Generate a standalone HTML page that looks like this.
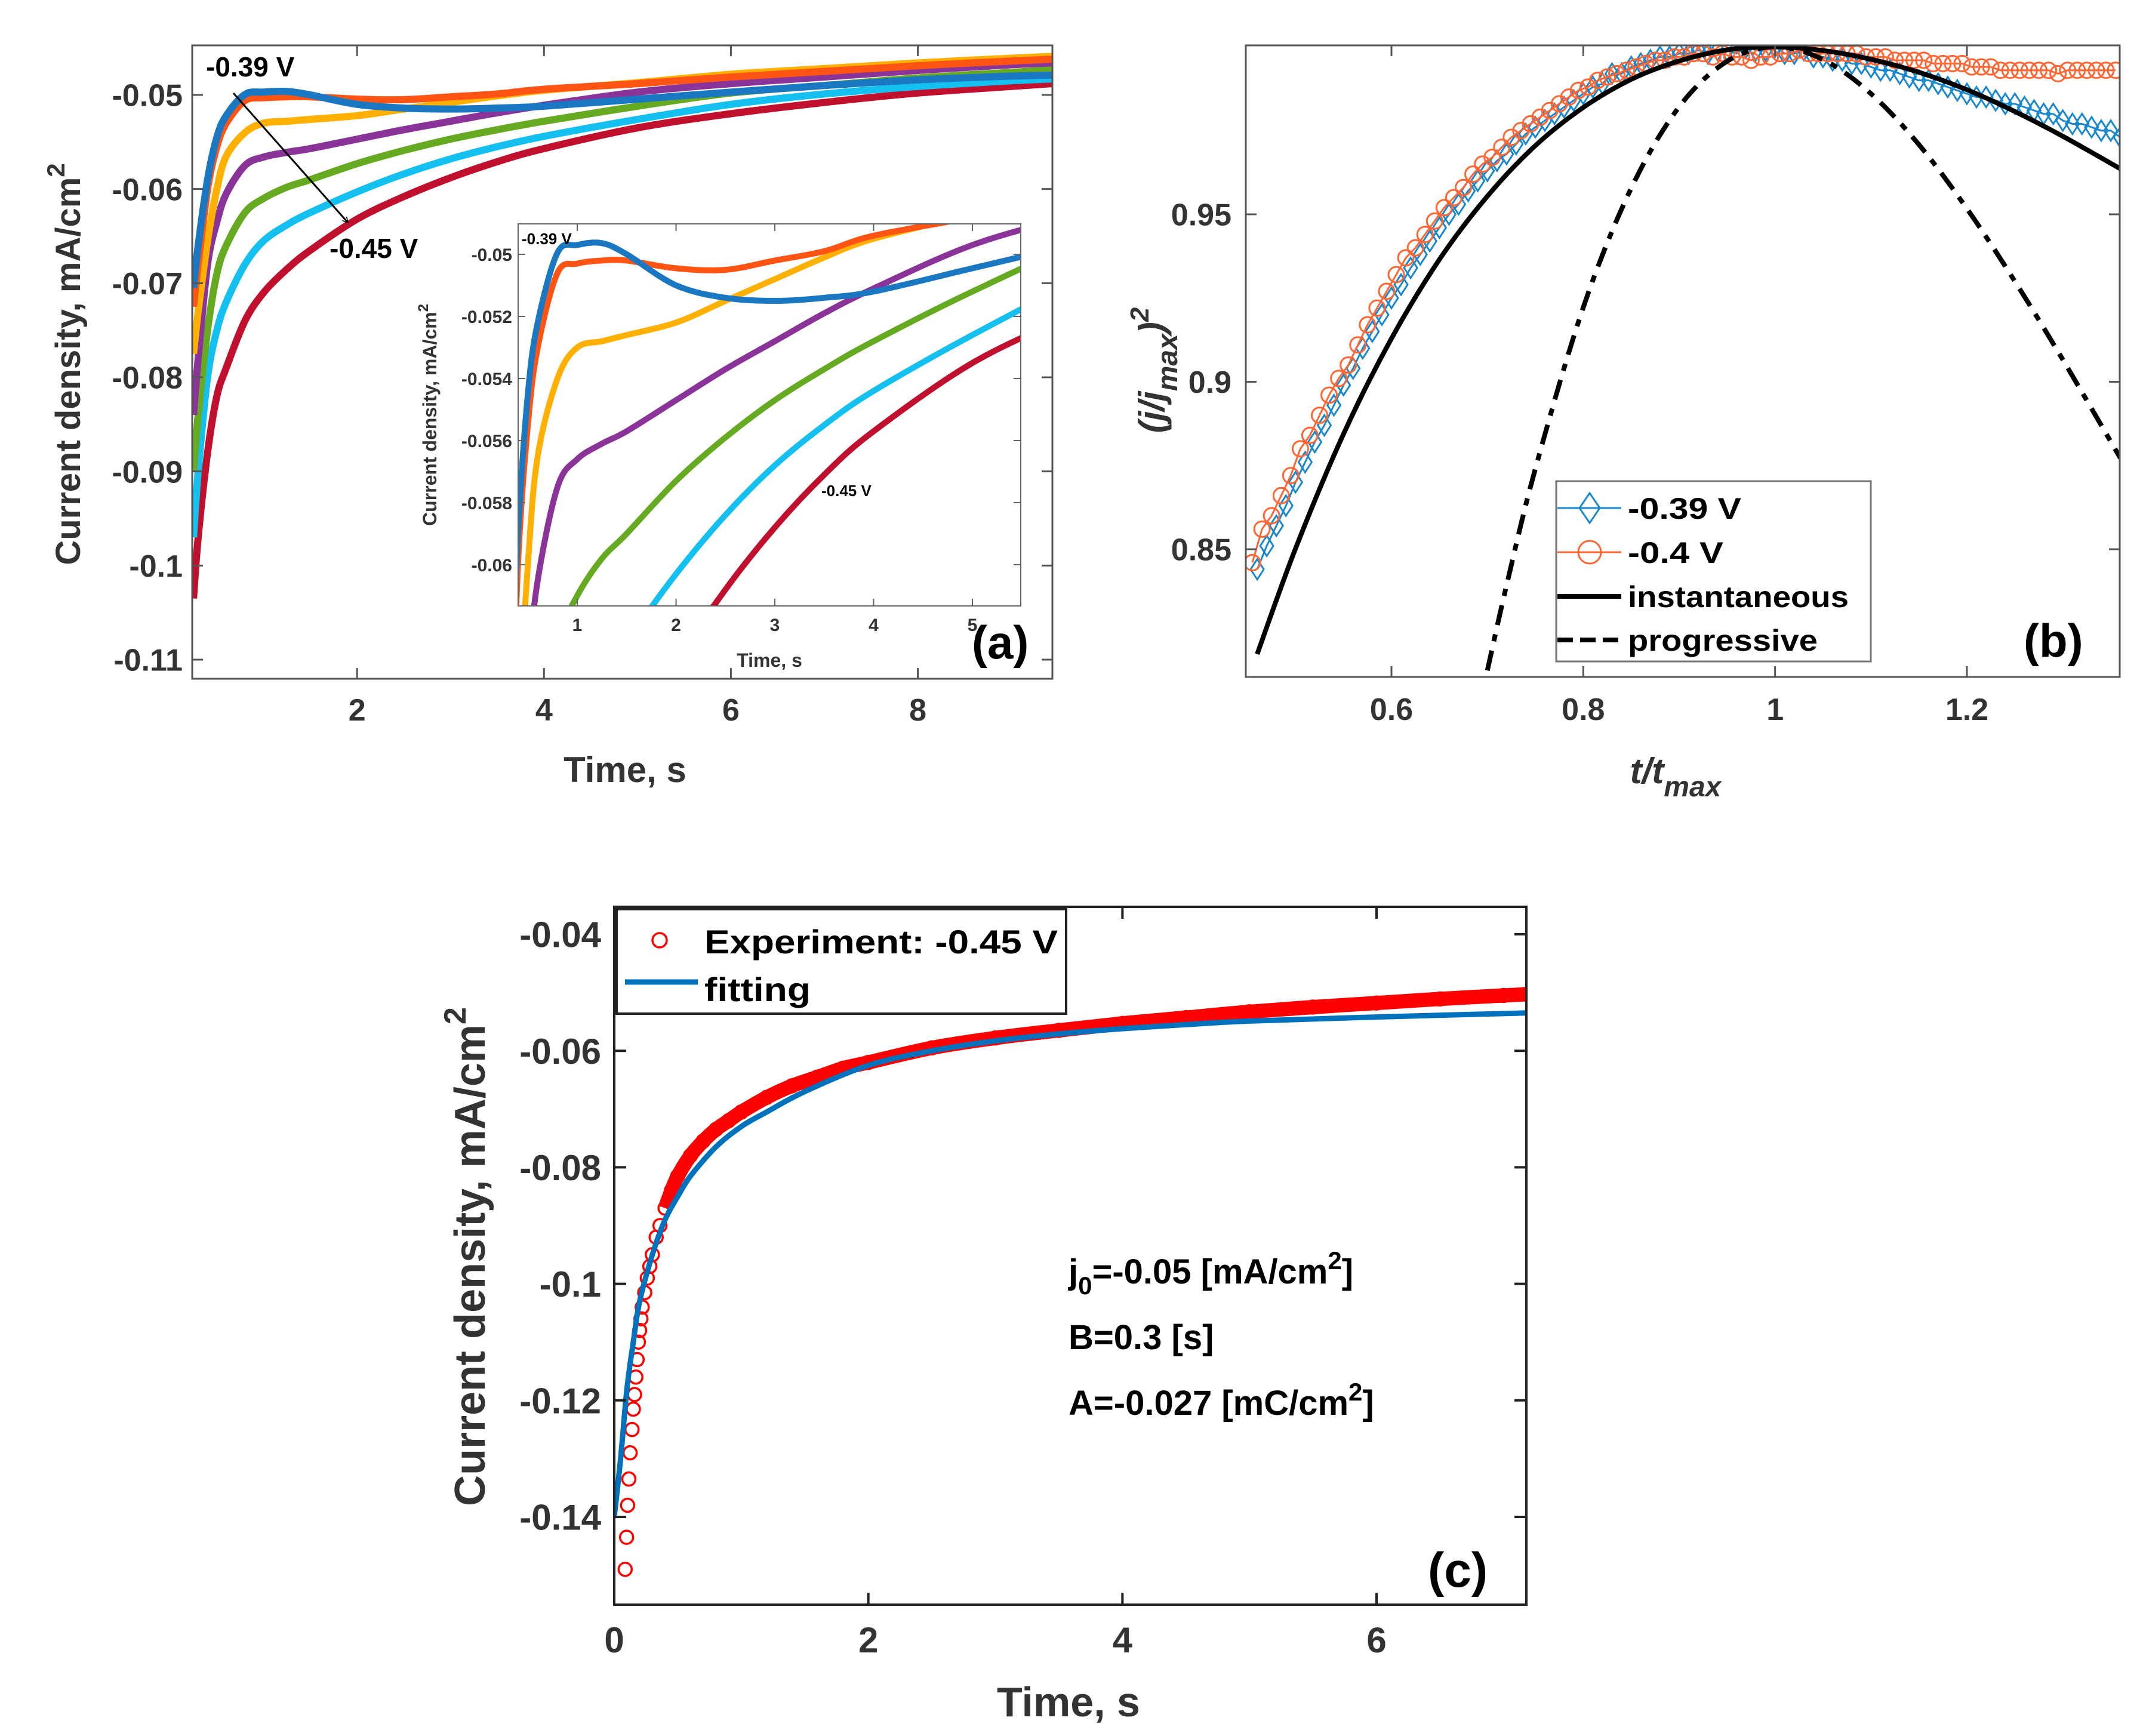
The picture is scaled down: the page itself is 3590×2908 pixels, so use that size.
<!DOCTYPE html>
<html><head><meta charset="utf-8"><style>
html,body{margin:0;padding:0;background:#fff;width:3590px;height:2908px;overflow:hidden;}
svg{display:block;font-family:"Liberation Sans",Arial,sans-serif;}
</style></head><body>
<svg id="fig" xmlns="http://www.w3.org/2000/svg" width="3590" height="2908" viewBox="0 0 3590 2908" overflow="hidden">
<rect width="3590" height="2908" fill="#fff"/>
<defs>
<clipPath id="clipA"><rect x="322" y="76" width="1441" height="1061"/></clipPath>
<clipPath id="clipI"><rect x="868" y="375" width="842" height="640"/></clipPath>
<clipPath id="clipB"><rect x="2087" y="76" width="1464" height="1058"/></clipPath>
<clipPath id="clipC"><rect x="1029" y="1519" width="1528" height="1169"/></clipPath>
<marker id="arrowhead" markerWidth="10" markerHeight="10" refX="8" refY="5" orient="auto" markerUnits="userSpaceOnUse" viewBox="0 0 10 10"><path d="M0,0 L10,5 L0,10" fill="none" stroke="#000" stroke-width="1.5"/></marker>
</defs>
<g id="panelA"></g>
<g id="panelB"></g>
<g id="panelC"></g>
</svg>
<script>
// ---------- Panel (a) data ----------
const aTimes = [0.25,0.3,0.4,0.5,0.6,0.8,1,1.25,1.5,2,2.5,3,3.5,4,5,6,7,8,9,9.44];
const aBlue   = [-0.0705,-0.066,-0.059,-0.0545,-0.0522,-0.04995,-0.0497,-0.04964,-0.0500,-0.0510,-0.0514,-0.0515,-0.0514,-0.0512,-0.05045,-0.0497,-0.0490,-0.0484,-0.0480,-0.0479];
const aOrange = [-0.0725,-0.068,-0.060,-0.0555,-0.053,-0.0506,-0.0503,-0.0502,-0.0502,-0.05045,-0.0505,-0.0502,-0.0499,-0.0494,-0.0488,-0.0481,-0.0475,-0.0469,-0.0464,-0.0462];
const aYellow = [-0.0775,-0.073,-0.0655,-0.060,-0.0565,-0.0540,-0.0530,-0.0528,-0.0526,-0.0522,-0.0515,-0.0508,-0.0501,-0.0495,-0.0487,-0.0478,-0.0472,-0.0466,-0.0461,-0.0459];
const aPurple = [-0.084,-0.078,-0.068,-0.0635,-0.0605,-0.0575,-0.0566,-0.0561,-0.0557,-0.0547,-0.0537,-0.0528,-0.0519,-0.0511,-0.0497,-0.0488,-0.0481,-0.0474,-0.0468,-0.0466];
const aGreen  = [-0.090,-0.084,-0.075,-0.069,-0.066,-0.0625,-0.0610,-0.0598,-0.0590,-0.0573,-0.0559,-0.0547,-0.0537,-0.0528,-0.0512,-0.0498,-0.0490,-0.0482,-0.0476,-0.0473];
const aCyan   = [-0.097,-0.090,-0.080,-0.075,-0.072,-0.068,-0.0655,-0.0638,-0.0625,-0.0603,-0.0584,-0.0568,-0.0555,-0.0544,-0.0526,-0.0510,-0.0499,-0.0491,-0.0485,-0.0483];
const aRed    = [-0.1035,-0.097,-0.088,-0.082,-0.079,-0.074,-0.071,-0.0685,-0.0665,-0.0632,-0.0608,-0.0588,-0.0571,-0.0557,-0.0535,-0.0520,-0.0508,-0.0498,-0.0491,-0.0488];
const aXTicks = [2,4,6,8];
const aYTicks = [-0.05,-0.06,-0.07,-0.08,-0.09,-0.1,-0.11];
const aYTickLabels = ["-0.05","-0.06","-0.07","-0.08","-0.09","-0.1","-0.11"];
const iXTicks = [1,2,3,4,5];
const iYTicks = [-0.05,-0.052,-0.054,-0.056,-0.058,-0.06];
const iYTickLabels = ["-0.05","-0.052","-0.054","-0.056","-0.058","-0.06"];

// ---------- Panel (b) data ----------
const bBlueStart = 0.46, bOrangeStart = 0.455, bStep = 0.01;
const bBlue = [.844,.851,.857,.863,.870,.876,.882,.887,.893,.899,
 .904,.910,.915,.920,.925,.929,.934,.938,.942,.946,
 .950,.953,.957,.960,.963,.966,.968,.971,.974,.976,
 .978,.980,.982,.984,.986,.988,.989,.992,.992,.994,
 .995,.996,.997,.997,.998,.998,.999,.998,.999,.999,
 .998,1.0,.999,.999,1.0,.998,.998,.999,.997,.997,
 .996,.996,.995,.995,.994,.993,.993,.992,.991,.990,
 .990,.989,.988,.987,.986,.985,.985,.984,.983,.983,
 .982,.981,.980,.980,.978,.977,.977,.976,.975,.975,.973];
const bOrange = [.846,.856,.860,.866,.872,.880,.884,.890,.896,.901,
 .905,.911,.917,.922,.927,.932,.937,.940,.944,.948,
 .952,.955,.958,.962,.965,.967,.970,.973,.975,.977,
 .979,.981,.983,.985,.987,.988,.990,.991,.992,.993,
 .994,.995,.996,.996,.997,.997,.998,.998,.997,.998,
 .997,.997,.996,.997,.997,.998,.998,.999,.998,.998,
 .998,.998,.998,.998,.997,.997,.997,.996,.996,.996,
 .996,.995,.995,.995,.995,.994,.994,.994,.993,.993,
 .993,.993,.993,.993,.992,.993,.993,.993,.993,.993,.993];
const bInstX = [0.46,0.5,0.55,0.6,0.65,0.7,0.75,0.8,0.85,0.9,0.95,1.0,1.05,1.1,1.15,1.2,1.25,1.3,1.36];
const bInstY = [0.8187,0.8502,0.8844,0.9129,0.9365,0.9554,0.9705,0.9819,0.9903,0.9958,0.9991,1.0,0.9989,0.9963,0.9924,0.9872,0.9807,0.9733,0.9636];
const bProgX = [0.70,0.72,0.75,0.8,0.85,0.9,0.95,1.0,1.05,1.1,1.15,1.2,1.25,1.3,1.36];
const bProgY = [0.8138,0.8392,0.8740,0.9222,0.9578,0.9821,0.9957,1.0,0.9962,0.9860,0.9708,0.9517,0.9300,0.9066,0.8772];
const bXTicks = [0.6,0.8,1,1.2];
const bXTickLabels = ["0.6","0.8","1","1.2"];
const bYTicks = [0.85,0.9,0.95];
const bYTickLabels = ["0.85","0.9","0.95"];

// ---------- Panel (c) data ----------
const cExpT = [0.086,0.097,0.105,0.115,0.125,0.14,0.15,0.16,0.17,0.18,0.19,0.2,0.21,0.22,0.24,0.26,0.28,0.3,0.33,0.36,0.4,0.45,0.5,0.6,0.7,0.8,0.9,1.0,1.2,1.4,1.6,1.8,2.0,2.5,3,3.5,4,4.5,5,5.5,6,6.5,7,7.18];
const cExpJ = [-0.149,-0.1435,-0.138,-0.1335,-0.129,-0.125,-0.1215,-0.119,-0.116,-0.113,-0.110,-0.108,-0.106,-0.104,-0.1015,-0.099,-0.097,-0.095,-0.092,-0.090,-0.087,-0.084,-0.0815,-0.078,-0.0755,-0.0735,-0.072,-0.0705,-0.068,-0.066,-0.0645,-0.063,-0.062,-0.0595,-0.0578,-0.0565,-0.0553,-0.0543,-0.0533,-0.0525,-0.0518,-0.0511,-0.0505,-0.0503];
const cFitT = [0,0.05,0.1,0.15,0.2,0.3,0.4,0.5,0.6,0.8,1,1.2,1.5,2,2.5,3,3.5,4,4.5,5,6,7.18];
const cFitJ = [-0.140,-0.130,-0.118,-0.110,-0.103,-0.095,-0.089,-0.085,-0.0815,-0.0765,-0.073,-0.0705,-0.067,-0.0625,-0.060,-0.0583,-0.0571,-0.0562,-0.0555,-0.0549,-0.0542,-0.0535];
const cXTicks = [0,2,4,6];
const cYTicks = [-0.04,-0.06,-0.08,-0.1,-0.12,-0.14];
const cYTickLabels = ["-0.04","-0.06","-0.08","-0.1","-0.12","-0.14"];

// ---------- helpers ----------
const NS = "http://www.w3.org/2000/svg";
function mk(tag, attrs, parent){
  const e = document.createElementNS(NS, tag);
  for (const k in attrs) e.setAttribute(k, attrs[k]);
  if (parent) parent.appendChild(e);
  return e;
}
function lin(d0,d1,r0,r1){ return v => r0 + (v-d0)/(d1-d0)*(r1-r0); }
function smoothPath(pts){
  if (pts.length < 2) return "";
  let d = "M" + pts[0][0].toFixed(1) + "," + pts[0][1].toFixed(1);
  for (let i=0;i<pts.length-1;i++){
    const p0 = pts[Math.max(0,i-1)], p1 = pts[i], p2 = pts[i+1], p3 = pts[Math.min(pts.length-1,i+2)];
    const c1x = p1[0] + (p2[0]-p0[0])/6, c1y = p1[1] + (p2[1]-p0[1])/6;
    const c2x = p2[0] - (p3[0]-p1[0])/6, c2y = p2[1] - (p3[1]-p1[1])/6;
    d += " C" + c1x.toFixed(1)+","+c1y.toFixed(1)+" "+c2x.toFixed(1)+","+c2y.toFixed(1)+" "+p2[0].toFixed(1)+","+p2[1].toFixed(1);
  }
  return d;
}
function drawBox(g, box, xs, ys, xTicks, yTicks, xLabels, yLabels, opt){
  const frame = mk("rect", {x:box.x, y:box.y, width:box.w, height:box.h, fill:"none", stroke:opt.frame, "stroke-width":opt.sw}, g);
  
  
  xTicks.forEach((v,i)=>{
    const x = xs(v);
    const t1 = mk("line",{x1:x,y1:box.y+box.h,x2:x,y2:box.y+box.h-opt.tl,stroke:opt.frame,"stroke-width":opt.sw},g);
    
    
    const t2 = mk("line",{x1:x,y1:box.y,x2:x,y2:box.y+opt.tl,stroke:opt.frame,"stroke-width":opt.sw},g);
    
    
    const tx = mk("text",{x:x,y:box.y+box.h+opt.xlOff,"text-anchor":"middle","font-size":opt.fs,"font-weight":"bold",fill:opt.tc},g);
    tx.textContent = xLabels[i];
    
    
  });
  yTicks.forEach((v,i)=>{
    const y = ys(v);
    const t1 = mk("line",{x1:box.x,y1:y,x2:box.x+opt.tl,y2:y,stroke:opt.frame,"stroke-width":opt.sw},g);
    
    
    const t2 = mk("line",{x1:box.x+box.w,y1:y,x2:box.x+box.w-opt.tl,y2:y,stroke:opt.frame,"stroke-width":opt.sw},g);
    
    
    const tx = mk("text",{x:box.x-opt.ylOff,y:y+opt.fs*0.36,"text-anchor":"end","font-size":opt.fs,"font-weight":"bold",fill:opt.tc},g);
    tx.textContent = yLabels[i];
    
    
  });
}
function txt(g, x, y, s, fs, name, extra){
  const t = mk("text", Object.assign({x:x,y:y,"font-size":fs,"font-weight":"bold",fill:"#000"}, extra||{}), g);
  t.textContent = s;
  
  
  return t;
}

// ---------- Panel (a) ----------
(function(){
  const g = document.getElementById("panelA");
  const box = {x:322,y:76,w:1441,h:1061};
  const xs = lin(0.236, 9.44, 322, 1763);
  const ys = lin(-0.05, -0.11, 159, 1105);
  const series = [[aBlue,"#1a78c2","curve-039v"],[aOrange,"#ff5414","curve-040v"],[aYellow,"#ffb000","curve-041v"],[aPurple,"#8a3399","curve-042v"],[aGreen,"#66aa22","curve-043v"],[aCyan,"#14c0f0","curve-044v"],[aRed,"#c0102e","curve-045v"]];
  const cg = mk("g",{"clip-path":"url(#clipA)"},g);
  series.slice().reverse().forEach(s=>{
    const p = mk("path",{d:smoothPath(aTimes.map((t,i)=>[xs(t),ys(s[0][i])])),fill:"none",stroke:s[1],"stroke-width":12,"stroke-linejoin":"round"},cg);
    
    
  });
  drawBox(g, box, xs, ys, aXTicks, aYTicks, aXTicks.map(String), aYTickLabels, {frame:"#555",sw:3,tl:18,fs:52,tc:"#333",xlOff:70,ylOff:16,prefix:"a"});
  txt(g, 1047, 1310, "Time, s", 60, "a-x-axis-title", {"text-anchor":"middle",fill:"#333"});
  const yl = mk("text",{x:0,y:0,"font-size":58,"font-weight":"bold",fill:"#333","text-anchor":"middle",transform:"translate(134,610) rotate(-90)"},g);
  yl.innerHTML = 'Current density, mA/cm<tspan dy="-26" font-size="42">2</tspan>';
  
  
  txt(g, 345, 128, "-0.39 V", 46, "label-039v");
  txt(g, 552, 432, "-0.45 V", 46, "label-045v");
  const ar = mk("line",{x1:391,y1:156,x2:582,y2:372,stroke:"#000","stroke-width":3,"marker-end":"url(#arrowhead)"},g);
  
  
  // inset
  const ib = {x:868,y:375,w:842,h:640};
  const bg = mk("rect",{x:ib.x,y:ib.y,width:ib.w,height:ib.h,fill:"#fff"},g);
  
  
  const ixs = lin(1, 5, 967, 1629);
  const iys = lin(-0.05, -0.06, 426, 946);
  const icg = mk("g",{"clip-path":"url(#clipI)"},g);
  series.slice().reverse().forEach(s=>{
    const p = mk("path",{d:smoothPath(aTimes.map((t,i)=>[ixs(t),iys(s[0][i])])),fill:"none",stroke:s[1],"stroke-width":10,"stroke-linejoin":"round"},icg);
    
    
  });
  drawBox(g, ib, ixs, iys, iXTicks, iYTicks, iXTicks.map(String), iYTickLabels, {frame:"#666",sw:2,tl:12,fs:30,tc:"#333",xlOff:42,ylOff:10,prefix:"inset"});
  txt(g, 1289, 1117, "Time, s", 32, "inset-x-axis-title", {"text-anchor":"middle",fill:"#333"});
  const iyl = mk("text",{x:0,y:0,"font-size":32,"font-weight":"bold",fill:"#333","text-anchor":"middle",transform:"translate(731,695) rotate(-90)"},g);
  iyl.innerHTML = 'Current density, mA/cm<tspan dy="-14" font-size="24">2</tspan>';
  
  
  txt(g, 874, 409, "-0.39 V", 26, "inset-label-039v");
  txt(g, 1376, 831, "-0.45 V", 26, "inset-label-045v");
  txt(g, 1628, 1103, "(a)", 78, "panel-label-a");
})();

// ---------- Panel (b) ----------
(function(){
  const g = document.getElementById("panelB");
  const box = {x:2087,y:76,w:1464,h:1058};
  const xs = lin(0.6, 1.2, 2331, 3295);
  const ys = lin(0.95, 0.85, 359, 920);
  const cg = mk("g",{"clip-path":"url(#clipB)"},g);
  const bx = bBlue.map((v,i)=>bBlueStart + i*bStep);
  const ox = bOrange.map((v,i)=>bOrangeStart + i*bStep);
  const bl = mk("polyline",{points:bx.map((x,i)=>xs(x)+","+ys(bBlue[i])).join(" "),fill:"none",stroke:"#1a88cc","stroke-width":3},cg);
  
  
  bx.forEach((x,i)=>{
    const cx = xs(x), cy = ys(bBlue[i]);
    const d = mk("path",{d:`M${cx},${cy-17} L${cx+11},${cy} L${cx},${cy+17} L${cx-11},${cy} Z`,fill:"none",stroke:"#1a88cc","stroke-width":3},cg);
    
    
  });
  const ol = mk("polyline",{points:ox.map((x,i)=>xs(x)+","+ys(bOrange[i])).join(" "),fill:"none",stroke:"#ff6633","stroke-width":3},cg);
  
  
  ox.forEach((x,i)=>{
    const c = mk("circle",{cx:xs(x),cy:ys(bOrange[i]),r:13,fill:"none",stroke:"#ff6633","stroke-width":3},cg);
    
    
  });
  const inst = mk("path",{d:smoothPath(bInstX.map((x,i)=>[xs(x),ys(bInstY[i])])),fill:"none",stroke:"#000","stroke-width":8},cg);
  
  
  const prog = mk("path",{d:smoothPath(bProgX.map((x,i)=>[xs(x),ys(bProgY[i])])),fill:"none",stroke:"#000","stroke-width":8,"stroke-dasharray":"34,16,12,16"},cg);
  
  
  drawBox(g, box, xs, ys, bXTicks, bYTicks, bXTickLabels, bYTickLabels, {frame:"#555",sw:3,tl:18,fs:52,tc:"#333",xlOff:72,ylOff:24,prefix:"b"});
  const xt = mk("text",{x:2807,y:1312,"font-size":60,"font-weight":"bold","font-style":"italic",fill:"#333","text-anchor":"middle"},g);
  xt.innerHTML = 't/t<tspan dy="22" font-size="48">max</tspan>';
  
  
  const yt = mk("text",{x:0,y:0,"font-size":60,"font-weight":"bold","font-style":"italic",fill:"#333","text-anchor":"middle",transform:"translate(1950,620) rotate(-90)"},g);
  yt.innerHTML = '(j/j<tspan dy="22" font-size="48">max</tspan><tspan dy="-22">)</tspan><tspan dy="-26" font-size="44">2</tspan>';
  
  
  // legend
  const lg = mk("g",{},g);
  
  
  const lb = mk("rect",{x:2607,y:806,width:527,height:302,fill:"#fff",stroke:"#777","stroke-width":3},lg);
  
  
  const ey = [851,925,999,1072];
  const l1 = mk("line",{x1:2609,y1:ey[0],x2:2716,y2:ey[0],stroke:"#1a88cc","stroke-width":3},lg);
   
  const m1 = mk("path",{d:`M2663,${ey[0]-25} L2680,${ey[0]} L2663,${ey[0]+25} L2646,${ey[0]} Z`,fill:"none",stroke:"#1a88cc","stroke-width":3},lg);
   
  const l2 = mk("line",{x1:2609,y1:ey[1],x2:2716,y2:ey[1],stroke:"#ff6633","stroke-width":3},lg);
   
  const m2 = mk("circle",{cx:2663,cy:ey[1],r:19,fill:"none",stroke:"#ff6633","stroke-width":3},lg);
   
  const l3 = mk("line",{x1:2609,y1:ey[2],x2:2716,y2:ey[2],stroke:"#000","stroke-width":8},lg);
   
  const l4 = mk("line",{x1:2609,y1:ey[3],x2:2716,y2:ey[3],stroke:"#000","stroke-width":8,"stroke-dasharray":"26,12"},lg);
   
  const labs = ["-0.39 V","-0.4 V","instantaneous","progressive"];
  labs.forEach((s,i)=>{ txt(lg, 2727, ey[i]+18, s, 50, 'legend-entry-' + i, {textLength: [190,160,370,318][i], lengthAdjust:"spacingAndGlyphs"}); });
  txt(g, 3390, 1100, "(b)", 78, "panel-label-b");
})();

// ---------- Panel (c) ----------
(function(){
  const g = document.getElementById("panelC");
  const box = {x:1029,y:1519,w:1528,h:1169};
  const xs = lin(0, 6, 1029, 2306);
  const ys = lin(-0.04, -0.14, 1565, 2541);
  const cg = mk("g",{"clip-path":"url(#clipC)"},g);
  const bandT = cExpT.filter(t=>t>=0.4);
  const band = mk("path",{d:smoothPath(bandT.map(t=>[xs(t),ys(cExpJ[cExpT.indexOf(t)])])),fill:"none",stroke:"#ff0000","stroke-width":24,"stroke-linecap":"butt"},cg);
  
  
  cExpT.forEach((t,i)=>{
    const c = mk("circle",{cx:xs(t),cy:ys(cExpJ[i]),r:11,fill:"none",stroke:"#ff0000","stroke-width":3.5},cg);
    
    
  });
  const fit = mk("path",{d:smoothPath(cFitT.map((t,i)=>[xs(t),ys(cFitJ[i])])),fill:"none",stroke:"#0072bd","stroke-width":9},cg);
  
  
  drawBox(g, box, xs, ys, cXTicks, cYTicks, cXTicks.map(String), cYTickLabels, {frame:"#222",sw:4,tl:20,fs:60,tc:"#333",xlOff:80,ylOff:22,prefix:"c"});
  txt(g, 1790, 2875, "Time, s", 70, "c-x-axis-title", {"text-anchor":"middle",fill:"#333"});
  const yl = mk("text",{x:0,y:0,"font-size":72,"font-weight":"bold",fill:"#333","text-anchor":"middle",transform:"translate(812,2105) rotate(-90)"},g);
  yl.innerHTML = 'Current density, mA/cm<tspan dy="-32" font-size="52">2</tspan>';
  
  
  const lg = mk("g",{},g);
  
  
  const lb = mk("rect",{x:1033,y:1523,width:753,height:175,fill:"#fff",stroke:"#222","stroke-width":4},lg);
   
  const lm = mk("circle",{cx:1105,cy:1575,r:12,fill:"none",stroke:"#ff0000","stroke-width":3.5},lg);
   
  const ll = mk("line",{x1:1047,y1:1645,x2:1169,y2:1645,stroke:"#0072bd","stroke-width":9},lg);
   
  txt(lg, 1180, 1597, "Experiment: -0.45 V", 56, "legend-entry-experiment", {textLength:592, lengthAdjust:"spacingAndGlyphs"});
  txt(lg, 1180, 1677, "fitting", 56, "legend-entry-fitting", {textLength:178, lengthAdjust:"spacingAndGlyphs"});
  const a1 = txt(g, 1790, 2150, "", 58, "annotation-j0");
  a1.innerHTML = 'j<tspan dy="18" font-size="42">0</tspan><tspan dy="-18">=-0.05 [mA/cm</tspan><tspan dy="-24" font-size="42">2</tspan><tspan dy="24">]</tspan>';
  txt(g, 1790, 2260, "B=0.3 [s]", 58, "annotation-b");
  const a3 = txt(g, 1790, 2370, "", 58, "annotation-a");
  a3.innerHTML = 'A=-0.027 [mC/cm<tspan dy="-24" font-size="42">2</tspan><tspan dy="24">]</tspan>';
  txt(g, 2392, 2658, "(c)", 82, "panel-label-c");
})();
</script>
</body></html>
